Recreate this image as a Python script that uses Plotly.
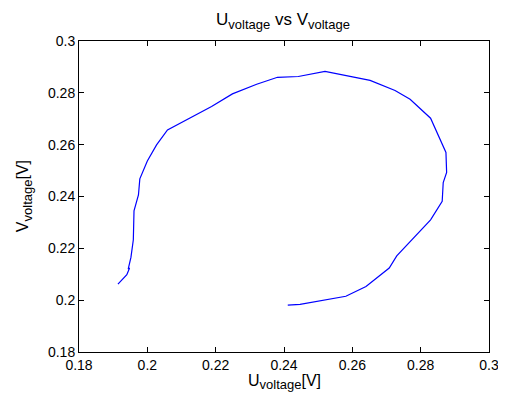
import plotly.graph_objects as go

u_voltage = [0.1914, 0.1940, 0.1948, 0.1944, 0.1952, 0.1959, 0.1961, 0.1974, 0.1978,
             0.2000, 0.2027, 0.2059, 0.2188, 0.2249, 0.2320, 0.2381, 0.2442, 0.2520,
             0.2652, 0.2725, 0.2769, 0.2829, 0.2874, 0.2876, 0.2866, 0.2863, 0.2829,
             0.2793, 0.2730, 0.2708, 0.2640, 0.2581, 0.2447, 0.2411]
v_voltage = [0.2062, 0.2098, 0.2124, 0.2120, 0.2165, 0.2233, 0.2345, 0.2406, 0.2468,
             0.2537, 0.2599, 0.2657, 0.2747, 0.2796, 0.2833, 0.2860, 0.2863, 0.2883,
             0.2848, 0.2809, 0.2775, 0.2702, 0.2570, 0.2493, 0.2454, 0.2381, 0.2310,
             0.2259, 0.2171, 0.2124, 0.2053, 0.2015, 0.1984, 0.1981]

x_ticks = [0.18, 0.2, 0.22, 0.24, 0.26, 0.28, 0.3]
x_tick_labels = ["0.18", "0.2", "0.22", "0.24", "0.26", "0.28", "0.3"]
y_ticks = [0.18, 0.2, 0.22, 0.24, 0.26, 0.28, 0.3]
y_tick_labels = ["0.18", "0.2", "0.22", "0.24", "0.26", "0.28", "0.3"]

font = "Liberation Sans, Arial, sans-serif"
SUB = "<sub><span style='font-size:13px'>voltage</span></sub>"

fig = go.Figure()
fig.add_trace(go.Scatter(x=u_voltage, y=v_voltage, mode="lines",
                         line=dict(color="#0000ff", width=1.2), showlegend=False))

axis_common = dict(showgrid=False, zeroline=False, showline=True, linecolor="black",
                   linewidth=1, mirror="ticks", ticks="inside", ticklen=5,
                   tickcolor="black", tickwidth=1, automargin=False,
                   ticklabeloverflow="allow",
                   tickfont=dict(family=font, size=14, color="black"))

# the page body has an 8px default margin, so the figure is offset by (8, 8)
fig.update_layout(
    width=498, height=385,
    paper_bgcolor="white", plot_bgcolor="white",
    margin=dict(l=71, r=17, t=33, b=41),
    font=dict(family=font, size=14, color="black"),
    xaxis=dict(range=[0.18, 0.3], tickvals=x_ticks, ticktext=x_tick_labels, **axis_common),
    yaxis=dict(range=[0.18, 0.3], tickvals=y_ticks, ticktext=y_tick_labels, **axis_common),
    annotations=[
        dict(text="U" + SUB + " vs V" + SUB, xref="paper", yref="paper",
             x=0.497, y=1.065, xanchor="center", yanchor="middle", showarrow=False,
             font=dict(family=font, size=17, color="black")),
        dict(text="U" + SUB + "[V]", xref="paper", yref="paper",
             x=0.5, y=-0.098, xanchor="center", yanchor="middle", showarrow=False,
             font=dict(family=font, size=16, color="black")),
        dict(text="V" + SUB + "[V]", xref="paper", yref="paper", textangle=-90,
             x=-0.135, y=0.5, xanchor="center", yanchor="middle", showarrow=False,
             font=dict(family=font, size=16, color="black")),
    ],
)

fig.write_html("out.html")
